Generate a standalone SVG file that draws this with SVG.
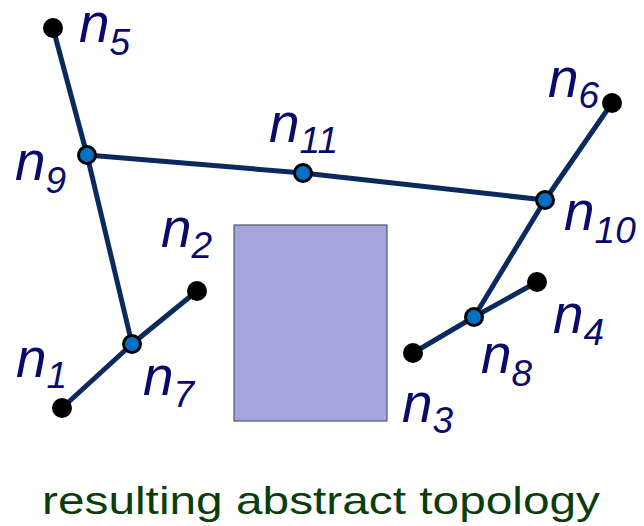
<svg xmlns="http://www.w3.org/2000/svg" width="644" height="526" viewBox="0 0 644 526">
<style>
.e{stroke:#0a2a5e;stroke-width:5;fill:none;stroke-linecap:round}
.s{fill:#0070c0;stroke:#000000;stroke-width:3}
.lb{font-family:"Liberation Sans",Arial,sans-serif;font-style:italic;fill:#0a0a6a}
.m{font-size:55px}
.sb{font-size:37px}
.cap{font-family:"Liberation Sans",Arial,sans-serif;font-size:39px;fill:#0b3d0b}
</style>
<rect width="644" height="526" fill="#ffffff"/>
<g id="obstacle"><rect x="234" y="225" width="153" height="196" fill="#a4a4de" stroke="#555566" stroke-width="1.2"/></g>
<g id="connectors">
<line class="e" x1="53" y1="28" x2="87" y2="155"/>
<line class="e" x1="87" y1="155" x2="132" y2="344"/>
<line class="e" x1="87" y1="155" x2="303" y2="173"/>
<line class="e" x1="303" y1="173" x2="545" y2="200"/>
<line class="e" x1="545" y1="200" x2="612" y2="103"/>
<line class="e" x1="545" y1="200" x2="474" y2="317"/>
<line class="e" x1="413" y1="353" x2="474" y2="317"/>
<line class="e" x1="474" y1="317" x2="537" y2="282"/>
<line class="e" x1="62" y1="408" x2="132" y2="344"/>
<line class="e" x1="132" y1="344" x2="197" y2="291"/>
</g>
<g id="n5"><circle cx="53" cy="28" r="10" fill="#000"/><text class="lb" x="79" y="42"><tspan class="m">n</tspan><tspan class="sb" dy="13">5</tspan></text></g>
<g id="n6"><circle cx="612" cy="103" r="10" fill="#000"/><text class="lb" x="548" y="97"><tspan class="m">n</tspan><tspan class="sb" dy="11">6</tspan></text></g>
<g id="n2"><circle cx="197" cy="291" r="10" fill="#000"/><text class="lb" x="161" y="247"><tspan class="m">n</tspan><tspan class="sb" dy="11">2</tspan></text></g>
<g id="n1"><circle cx="62" cy="408" r="10" fill="#000"/><text class="lb" x="16" y="377"><tspan class="m">n</tspan><tspan class="sb" dy="11">1</tspan></text></g>
<g id="n3"><circle cx="413" cy="353" r="10" fill="#000"/><text class="lb" x="402" y="422"><tspan class="m">n</tspan><tspan class="sb" dy="11">3</tspan></text></g>
<g id="n4"><circle cx="537" cy="282" r="10" fill="#000"/><text class="lb" x="553" y="333"><tspan class="m">n</tspan><tspan class="sb" dy="12">4</tspan></text></g>
<g id="n9"><circle class="s" cx="87" cy="155" r="8.5"/><text class="lb" x="15" y="180"><tspan class="m">n</tspan><tspan class="sb" dy="13">9</tspan></text></g>
<g id="n11"><circle class="s" cx="303" cy="173" r="8.5"/><text class="lb" x="269" y="142"><tspan class="m">n</tspan><tspan class="sb" dy="11">11</tspan></text></g>
<g id="n10"><circle class="s" cx="545" cy="200" r="8.5"/><text class="lb" x="564" y="230"><tspan class="m">n</tspan><tspan class="sb" dy="13">10</tspan></text></g>
<g id="n7"><circle class="s" cx="132" cy="344" r="8.5"/><text class="lb" x="143" y="395"><tspan class="m">n</tspan><tspan class="sb" dy="12">7</tspan></text></g>
<g id="n8"><circle class="s" cx="474" cy="317" r="8.5"/><text class="lb" x="481" y="373"><tspan class="m">n</tspan><tspan class="sb" dy="13">8</tspan></text></g>
<text class="cap" x="42" y="514" textLength="558" lengthAdjust="spacingAndGlyphs">resulting abstract topology</text>
</svg>
